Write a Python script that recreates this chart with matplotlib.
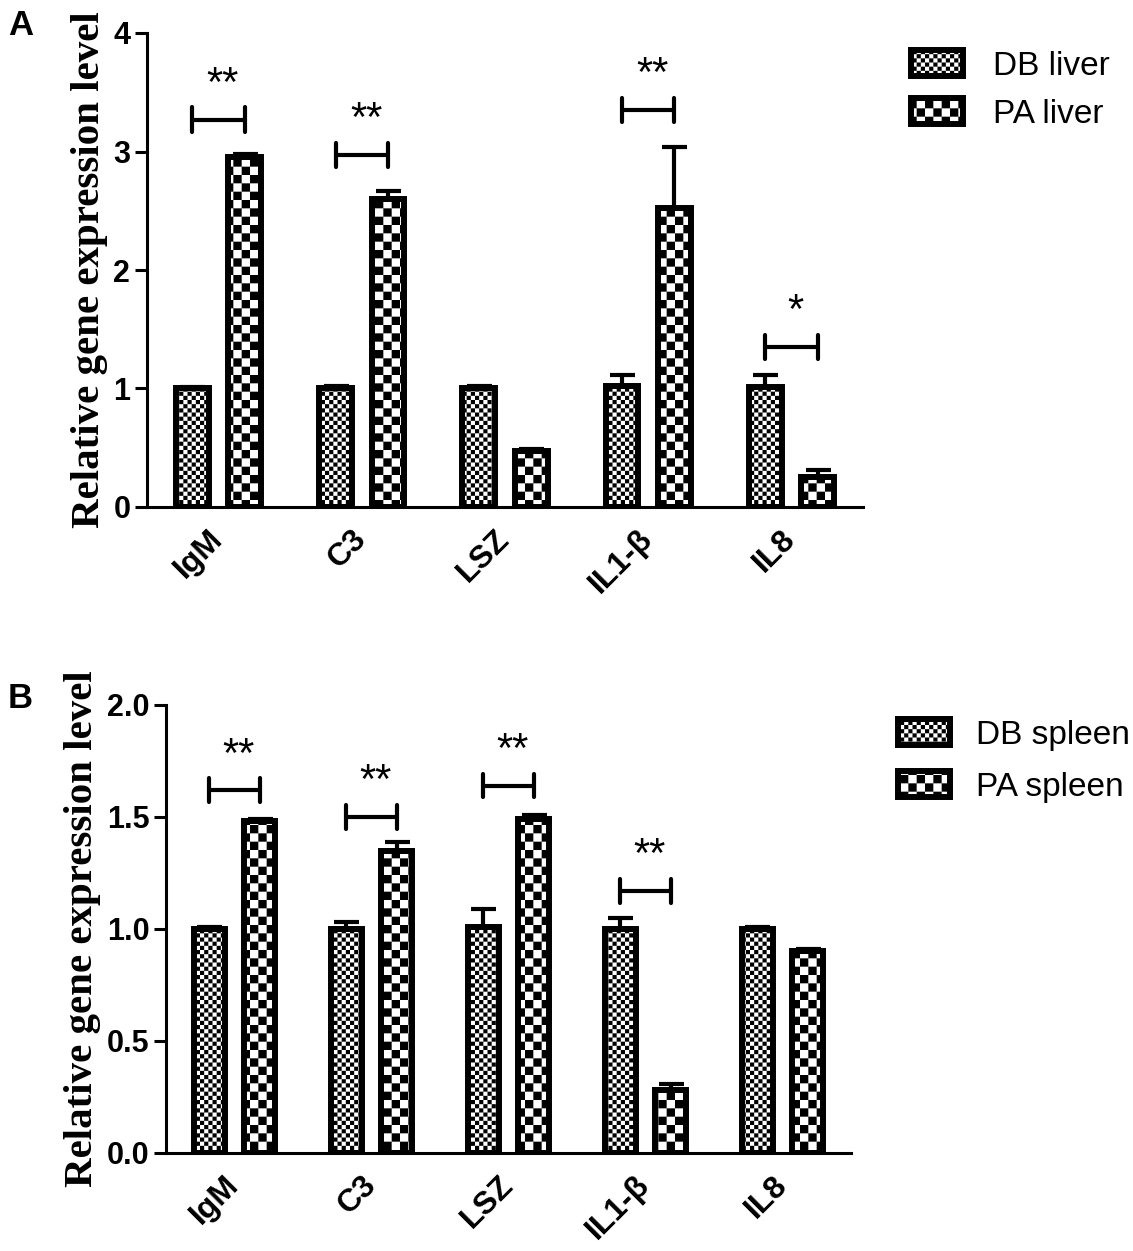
import warnings
import numpy as np
import matplotlib
matplotlib.use('Agg')
import matplotlib.pyplot as plt
import matplotlib.hatch as mhatch
from matplotlib.path import Path

warnings.filterwarnings('ignore')

genes = ['IgM', 'C3', 'LSZ', 'IL1-β', 'IL8']

# panel A - liver
liver_db = [1.00, 1.00, 1.00, 1.02, 1.01]
liver_db_err = [0.01, 0.02, 0.02, 0.09, 0.10]
liver_pa = [2.95, 2.60, 0.47, 2.52, 0.25]
liver_pa_err = [0.03, 0.07, 0.02, 0.52, 0.06]
liver_sig = ['**', '**', '', '**', '*']
liver_bracket = [3.27, 2.97, None, 3.35, 1.35]

# panel B - spleen
spleen_db = [1.00, 1.00, 1.01, 1.00, 1.00]
spleen_db_err = [0.01, 0.03, 0.08, 0.05, 0.01]
spleen_pa = [1.48, 1.35, 1.49, 0.28, 0.90]
spleen_pa_err = [0.01, 0.04, 0.02, 0.03, 0.01]
spleen_sig = ['**', '**', '**', '**', '']
spleen_bracket = [1.62, 1.50, 1.64, 1.17, None]

W, H = 1133, 1251


# checkerboard fill, 'c' = 12 cells per inch, 'cc' = 24
class CheckerHatch(mhatch.HatchPatternBase):
    def __init__(self, hatch, density):
        self.cells = 2 * int(density) * hatch.count('c')
        self.num_vertices = (self.cells * self.cells // 2) * 5

    def set_vertices_and_codes(self, vertices, codes):
        n = self.cells
        s = 1.0 / n
        sq = np.array([[0, 0], [s, 0], [s, s], [0, s], [0, 0]])
        cc = [Path.MOVETO, Path.LINETO, Path.LINETO, Path.LINETO, Path.CLOSEPOLY]
        k = 0
        for i in range(n):
            for j in range(n):
                if (i + j) % 2 == 0:
                    vertices[k:k + 5] = sq + [j * s, i * s]
                    codes[k:k + 5] = cc
                    k += 5


mhatch._hatch_types.append(CheckerHatch)

plt.rcParams['font.family'] = ['Liberation Sans', 'DejaVu Sans']
plt.rcParams['hatch.linewidth'] = 0.0


def fx(px):
    return px / W


def fy(py):
    return 1 - py / H


fig = plt.figure(figsize=(W / 100, H / 100), dpi=100)
axA = fig.add_axes([fx(147), fy(507), (863 - 147) / W, (507 - 33) / H])
axB = fig.add_axes([fx(166), fy(1153), (851 - 166) / W, (1153 - 705) / H])

x = np.arange(len(genes))
off = 0.183
bw = 0.23


def panel(ax, db, db_err, pa, pa_err, sig, brk, ymax, yticks, ylabels, names, leg_x, leg_y, lspace, tpad):
    b1 = ax.bar(x - off, db, bw, color='white', edgecolor='black', linewidth=4.3,
                hatch='cc', label=names[0], zorder=2)
    b2 = ax.bar(x + off, pa, bw, color='white', edgecolor='black', linewidth=4.3,
                hatch='c', label=names[1], zorder=2)
    z = np.zeros(len(genes))
    ax.errorbar(x - off, db, yerr=[z, db_err], fmt='none', ecolor='black',
                elinewidth=3, capsize=9, capthick=3, zorder=3)
    ax.errorbar(x + off, pa, yerr=[z, pa_err], fmt='none', ecolor='black',
                elinewidth=3, capsize=9, capthick=3, zorder=3)

    h = 0.026 * ymax
    for i, (s, y) in enumerate(zip(sig, brk)):
        if not s:
            continue
        x0, x1 = i - off, i + off
        ax.plot([x0, x1], [y, y], color='black', lw=3, solid_capstyle='butt')
        ax.plot([x0, x0], [y - h, y + h], color='black', lw=3, solid_capstyle='round')
        ax.plot([x1, x1], [y - h, y + h], color='black', lw=3, solid_capstyle='round')
        ax.annotate(s, (i + 0.03, y), xytext=(0, 17), textcoords='offset points',
                    ha='center', va='baseline', fontsize=30)

    ax.set_xlim(-0.5, 4.5)
    ax.set_ylim(0, ymax)
    ax.spines[['top', 'right']].set_visible(False)
    ax.spines[['left', 'bottom']].set_linewidth(2.2)
    ax.set_yticks(yticks, ylabels, fontweight='bold', fontsize=22)
    ax.set_xticks(x, genes, fontweight='bold', fontsize=23, rotation=45,
                  ha='right', va='center', rotation_mode='anchor')
    ax.tick_params(axis='y', length=9, width=2.2, pad=3)
    ax.tick_params(axis='x', length=0, pad=20)
    ax.set_ylabel('Relative gene expression level', family='Liberation Serif',
                  fontweight='bold', fontsize=29.5, labelpad=4)

    fig.legend(handles=[b1, b2], loc='center left', bbox_to_anchor=(fx(leg_x), fy(leg_y)),
               frameon=False, fontsize=24, borderpad=0, borderaxespad=0,
               handlelength=1.55, handleheight=0.8, handletextpad=tpad, labelspacing=lspace)


panel(axA, liver_db, liver_db_err, liver_pa, liver_pa_err, liver_sig, liver_bracket,
      4, [0, 1, 2, 3, 4], ['0', '1', '2', '3', '4'], ['DB liver', 'PA liver'],
      911, 90, 0.5, 0.9)
panel(axB, spleen_db, spleen_db_err, spleen_pa, spleen_pa_err, spleen_sig, spleen_bracket,
      2, [0, 0.5, 1.0, 1.5, 2.0], ['0.0', '0.5', '1.0', '1.5', '2.0'], ['DB spleen', 'PA spleen'],
      898, 761, 0.62, 0.8)

fig.text(fx(8), fy(35), 'A', fontweight='bold', fontsize=25, va='baseline')
fig.text(fx(8), fy(708), 'B', fontweight='bold', fontsize=25, va='baseline')

fig.savefig('out.png', dpi=100)
